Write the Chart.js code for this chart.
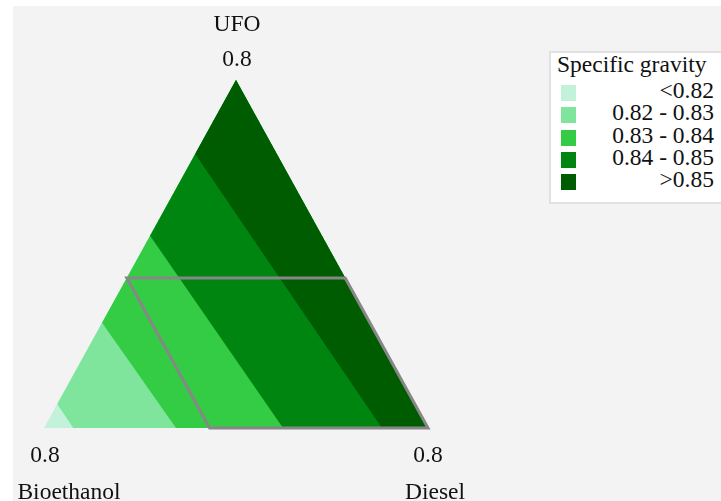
<!DOCTYPE html>
<html>
<head>
<meta charset="utf-8">
<title>Specific gravity – Bioethanol / Diesel / UFO blends</title>
<script src="https://cdn.jsdelivr.net/npm/chart.js@4.4.1/dist/chart.umd.min.js"></script>
<style>
  html, body { margin: 0; padding: 0; background: #ffffff; overflow: hidden; }
  #stage { position: relative; width: 721px; height: 501px; }
  #panel { position: absolute; left: 13px; top: 6px; right: 0; bottom: 0; background: #f3f3f3; }
  #chart { position: absolute; left: 0; top: 0; }
  .lbl {
    position: absolute; width: 300px; text-align: center; white-space: nowrap;
    font: 23.5px/26px "Liberation Serif", "Times New Roman", serif; color: #111;
  }
  #legend {
    position: absolute; left: 549px; top: 51px; width: 190px; height: 149px;
    border: 2px solid #e1e1e1; background: #ffffff;
    font: 23.5px/26px "Liberation Serif", "Times New Roman", serif; color: #111;
  }
  #legend .title { position: absolute; left: 6px; white-space: nowrap; }
  #legend .row { position: absolute; left: 0; width: 163px; text-align: right; white-space: nowrap; }
  #legend .sw { position: absolute; left: 10px; width: 15px; height: 16px; }
</style>
</head>
<body>
<div id="stage">
  <div id="panel"></div>
  <canvas id="chart" width="721" height="501"></canvas>
  <div id="legend"></div>
</div>
<script>
// ---- data -------------------------------------------------------------
// Components at the three corners of the mixture triangle
const vertexNames = ['Bioethanol', 'Diesel', 'UFO'];
// Upper limit of each component (value written at every corner)
const vertexMax = 0.8;

// Specific gravity classes, lowest to highest
const bandLabels = ['<0.82', '0.82 - 0.83', '0.83 - 0.84', '0.84 - 0.85', '>0.85'];
const bandColors = ['#c2f2da', '#80e59c', '#33cc44', '#008610', '#005c00'];

// Contours at SG = 0.82, 0.83, 0.84, 0.85:
// UFO fraction where each one meets the Bioethanol–UFO side,
// Diesel fraction where each one meets the Bioethanol–Diesel side
const contourUfoOnSide = [0.055, 0.242, 0.442, 0.630];
const contourDieselOnBase = [0.061, 0.275, 0.498, 0.704];

// Blend window outlined on the plot
const windowUfoMax = 0.345;
const windowBioethanolMax = 0.455;

// ---- geometry helpers ---------------------------------------------------
// Ternary composition (bioethanol, diesel, ufo) -> plane coordinates
function toXY(b, d, u) {
  return { x: (d + u / 2) / vertexMax, y: u / vertexMax };
}
const M = vertexMax;

// Cumulative band polygons: band k covers everything at or above its lower contour
const bandPolygons = bandLabels.map((_, k) => {
  if (k === 0) {
    return [toXY(M, 0, 0), toXY(0, M, 0), toXY(0, 0, M), toXY(M, 0, 0)];
  }
  const cu = contourUfoOnSide[k - 1];
  const cd = contourDieselOnBase[k - 1];
  return [
    toXY(M - cu, 0, cu),
    toXY(0, 0, M),
    toXY(0, M, 0),
    toXY(M - cd, cd, 0),
    toXY(M - cu, 0, cu)
  ];
});

const windowCorners = [
  toXY(windowBioethanolMax, M - windowBioethanolMax - windowUfoMax, windowUfoMax) ,
  toXY(0, M - windowUfoMax, windowUfoMax),
  toXY(0, M, 0),
  toXY(windowBioethanolMax, M - windowBioethanolMax, 0)
];
// walk one edge past the start so the closing corner gets a proper join
const windowPath = windowCorners.concat([windowCorners[0], windowCorners[1]]);

// ---- chart ---------------------------------------------------------------
const datasets = bandPolygons.map((pts, k) => ({
  label: bandLabels[k],
  data: pts,
  backgroundColor: bandColors[k],
  borderColor: 'rgba(0,0,0,0)',
  borderWidth: 0,
  fill: 'shape',
  pointRadius: 0,
  pointHoverRadius: 0,
  order: bandLabels.length - k
}));
datasets.push({
  label: 'Blend window',
  data: windowPath,
  fill: false,
  borderColor: '#878787',
  borderWidth: 3,
  borderJoinStyle: 'miter',
  pointRadius: 0,
  pointHoverRadius: 0,
  clip: false,
  order: 0
});

const chart = new Chart(document.getElementById('chart'), {
  type: 'line',
  data: { datasets },
  options: {
    responsive: false,
    animation: false,
    devicePixelRatio: 1,
    events: [],
    layout: { padding: { left: 44, right: 293, top: 80, bottom: 73 } },
    scales: {
      x: { type: 'linear', min: 0, max: 1, display: false },
      y: { type: 'linear', min: 0, max: 1, display: false }
    },
    elements: { line: { tension: 0 } },
    plugins: {
      legend: { display: false },
      tooltip: { enabled: false }
    }
  }
});

// ---- corner labels, anchored on the scales -----------------------------
const stage = document.getElementById('stage');
const xs = chart.scales.x, ys = chart.scales.y;
function pix(p) { return { x: xs.getPixelForValue(p.x), y: ys.getPixelForValue(p.y) }; }
function addLabel(text, cx, baseline) {
  const el = document.createElement('div');
  el.className = 'lbl';
  el.textContent = text;
  el.style.left = (cx - 150) + 'px';
  el.style.top = (baseline - 20.9) + 'px';
  stage.appendChild(el);
}
const tick = vertexMax.toFixed(1);
const pBio = pix(toXY(M, 0, 0));
const pDie = pix(toXY(0, M, 0));
const pUfo = pix(toXY(0, 0, M));
addLabel(vertexNames[2], pUfo.x + 1, pUfo.y - 49);
addLabel(tick, pUfo.x + 1, pUfo.y - 14);
addLabel(tick, pBio.x + 1, pBio.y + 34);
addLabel(vertexNames[0], pBio.x + 25, pBio.y + 71);
addLabel(tick, pDie.x, pDie.y + 34);
addLabel(vertexNames[1], pDie.x + 7, pDie.y + 71);

// ---- legend ------------------------------------------------------------
const legend = document.getElementById('legend');
const title = document.createElement('div');
title.className = 'title';
title.textContent = 'Specific gravity';
title.style.top = '-2px';
legend.appendChild(title);
bandLabels.forEach((txt, i) => {
  const baseline = 45 + i * 22.3;
  const sw = document.createElement('div');
  sw.className = 'sw';
  sw.style.background = bandColors[i];
  sw.style.top = (baseline - 13) + 'px';
  legend.appendChild(sw);
  const row = document.createElement('div');
  row.className = 'row';
  row.textContent = txt;
  row.style.top = (baseline - 20.9) + 'px';
  legend.appendChild(row);
});
</script>
</body>
</html>
